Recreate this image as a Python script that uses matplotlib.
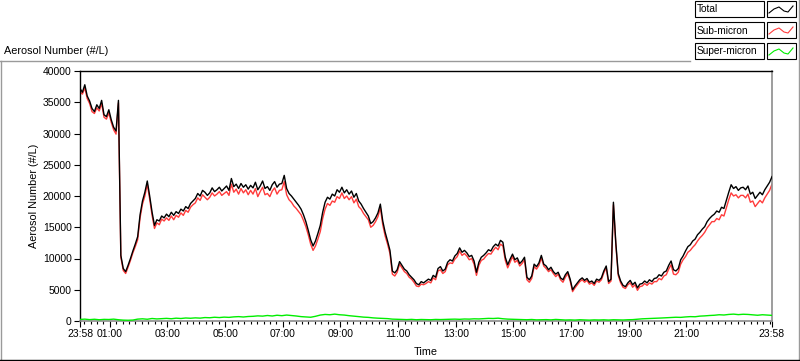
import numpy as np
import matplotlib

matplotlib.use("Agg")
import matplotlib.pyplot as plt
from matplotlib.lines import Line2D
from matplotlib.patches import Rectangle

plt.rcParams["font.family"] = ["Liberation Sans", "DejaVu Sans"]
plt.rcParams["font.size"] = 7.5

# Hours after midnight. The record runs 23:58 -> 23:58 the next day.
START_HOUR = -2 / 60
END_HOUR = 24 - 2 / 60

# Total and sub-micron counts, one value every 5 min, in thousands #/L
total_k = [
    37.2, 36.6, 37.8, 36.0, 35.2, 34.0, 33.5, 34.6, 34.0, 35.3, 33.0, 32.7,
    33.8, 32.2, 31.0, 30.4, 35.3, 10.5, 8.4, 7.9, 8.9, 10.0, 11.2, 12.3,
    13.5, 17.0, 19.2, 20.6, 22.4, 20.0, 17.4, 15.3, 16.2, 16.0, 16.8, 16.5,
    17.1, 16.7, 17.4, 16.9, 17.5, 17.2, 17.9, 17.6, 18.3, 18.0, 18.8, 19.2,
    19.6, 20.4, 20.0, 20.9, 20.6, 20.1, 20.5, 21.3, 20.7, 21.0, 21.4, 20.8,
    21.2, 21.6, 20.9, 22.8, 21.5, 21.9, 21.2, 22.0, 21.4, 21.8, 21.1, 21.7,
    21.3, 22.2, 21.0, 21.6, 22.4, 21.2, 21.5, 20.9, 21.8, 22.3, 21.4, 21.9,
    22.0, 23.3, 21.2, 20.4, 20.0, 19.5, 19.0, 18.5, 17.9, 17.0, 15.9, 14.5,
    13.0, 12.0, 12.8, 14.0, 15.3, 17.4, 19.0, 19.8, 19.5, 20.3, 20.0, 21.0,
    20.6, 21.4, 20.5, 21.0, 20.3, 20.8, 19.8, 20.4, 19.2, 18.7, 18.0, 17.4,
    16.8, 15.6, 15.9, 16.5, 17.3, 18.7, 16.0, 14.2, 12.8, 11.3, 8.0, 7.7,
    8.2, 9.5, 8.9, 8.3, 8.0, 7.4, 7.0, 6.6, 6.0, 5.8, 6.3, 6.1,
    6.4, 6.7, 6.5, 7.3, 7.0, 8.4, 8.7, 8.0, 8.3, 9.4, 9.8, 9.6,
    10.4, 10.8, 11.7, 11.0, 11.3, 10.9, 10.3, 10.5, 9.6, 7.8, 9.4, 10.2,
    10.5, 10.9, 11.4, 11.2, 11.9, 12.3, 12.0, 12.9, 12.6, 10.2, 9.0, 9.9,
    10.7, 9.8, 10.1, 9.2, 9.6, 10.2, 7.0, 6.6, 7.2, 9.1, 8.7, 9.3,
    10.5, 9.1, 8.8, 8.2, 8.6, 7.9, 7.5, 7.8, 6.9, 6.6, 7.4, 7.9,
    6.7, 5.0, 5.6, 6.1, 6.6, 6.9, 6.5, 6.8, 6.2, 6.4, 6.0, 6.7,
    6.5, 6.9, 8.0, 8.8, 6.3, 6.7, 19.0, 12.5, 7.6, 6.4, 5.7, 5.5,
    6.1, 6.5, 5.8, 6.2, 5.3, 5.9, 6.0, 6.4, 6.1, 6.6, 6.3, 6.8,
    6.9, 7.4, 7.2, 7.8, 8.0, 8.9, 9.6, 8.2, 8.0, 8.4, 9.8, 10.4,
    11.2, 11.9, 12.2, 12.8, 13.1, 13.8, 14.2, 14.7, 15.1, 15.9, 16.4, 16.8,
    17.1, 17.6, 17.4, 18.2, 18.0, 19.3, 20.6, 21.8, 21.2, 21.5, 20.9, 21.3,
    21.4, 21.0, 21.6, 20.3, 20.6, 19.6, 20.1, 20.6, 20.2, 21.0, 21.6, 22.2,
    23.1,
]

sub_micron_k = [
    36.7, 36.3, 37.3, 35.6, 34.8, 33.5, 33.2, 34.1, 33.6, 34.8, 32.6, 32.3,
    33.3, 31.8, 30.6, 29.9, 34.9, 10.2, 8.1, 7.6, 8.6, 9.7, 10.9, 11.9,
    13.0, 16.5, 18.7, 20.0, 21.9, 19.5, 16.9, 14.8, 15.7, 15.4, 16.3, 16.0,
    16.5, 16.1, 16.8, 16.2, 16.9, 16.6, 17.3, 16.9, 17.7, 17.4, 18.2, 18.6,
    18.9, 19.7, 19.3, 20.2, 19.8, 19.4, 19.8, 20.5, 20.0, 20.3, 20.7, 20.1,
    20.4, 20.7, 20.1, 21.9, 20.6, 21.1, 20.3, 21.2, 20.5, 21.0, 20.2, 20.9,
    20.3, 21.2, 19.9, 20.7, 21.4, 20.2, 20.4, 19.9, 20.8, 21.3, 20.3, 20.9,
    21.0, 22.3, 20.2, 19.4, 19.0, 18.4, 18.0, 17.5, 17.0, 16.1, 15.1, 13.8,
    12.3, 11.3, 12.0, 13.1, 14.3, 16.4, 17.9, 18.8, 18.5, 19.2, 19.0, 19.9,
    19.6, 20.5, 19.6, 20.0, 19.4, 19.9, 18.9, 19.5, 18.3, 17.9, 17.2, 16.7,
    16.2, 15.0, 15.3, 15.9, 16.7, 18.1, 15.4, 13.6, 12.3, 10.8, 7.5, 7.2,
    7.8, 9.1, 8.5, 7.9, 7.6, 7.0, 6.7, 6.2, 5.6, 5.5, 5.9, 5.8,
    6.0, 6.3, 6.1, 6.9, 6.6, 8.0, 8.2, 7.6, 7.9, 9.0, 9.3, 9.2,
    9.9, 10.3, 11.2, 10.5, 10.8, 10.4, 9.8, 10.0, 9.1, 7.3, 8.9, 9.7,
    9.9, 10.4, 10.8, 10.7, 11.3, 11.8, 11.4, 12.3, 12.0, 9.7, 8.5, 9.4,
    10.3, 9.4, 9.7, 8.8, 9.2, 9.8, 6.6, 6.2, 6.8, 8.7, 8.3, 8.9,
    10.1, 8.8, 8.4, 7.9, 8.2, 7.6, 7.1, 7.5, 6.6, 6.2, 7.0, 7.6,
    6.4, 4.7, 5.3, 5.8, 6.3, 6.6, 6.2, 6.5, 5.9, 6.1, 5.7, 6.4,
    6.2, 6.6, 7.7, 8.5, 6.0, 6.4, 18.6, 12.2, 7.3, 6.1, 5.4, 5.2,
    5.8, 6.1, 5.4, 5.8, 4.9, 5.5, 5.6, 6.0, 5.7, 6.1, 5.9, 6.3,
    6.3, 6.8, 6.6, 7.2, 7.4, 8.3, 9.0, 7.5, 7.4, 7.8, 9.1, 9.8,
    10.3, 11.0, 11.3, 11.8, 12.2, 12.8, 13.3, 13.7, 14.2, 14.9, 15.4, 15.9,
    15.9, 16.4, 16.2, 17.0, 16.8, 18.1, 19.4, 20.5, 20.0, 20.2, 19.7, 20.1,
    20.1, 19.7, 20.3, 19.0, 19.2, 18.3, 18.8, 19.3, 18.9, 19.7, 20.3, 20.9,
    21.9,
]

# Super-micron counts, one value every 10 min, in thousands #/L
super_micron_k = [
    0.25, 0.30, 0.22, 0.28, 0.20, 0.26,
    0.24, 0.30, 0.20, 0.14, 0.12, 0.15,
    0.30, 0.35, 0.28, 0.40, 0.33, 0.38,
    0.42, 0.36, 0.45, 0.40, 0.48, 0.44,
    0.50, 0.46, 0.55, 0.52, 0.60, 0.55,
    0.62, 0.58, 0.66, 0.70, 0.64, 0.72,
    0.75, 0.82, 0.78, 0.88, 0.80, 0.92,
    0.85, 0.95, 0.88, 0.80, 0.70, 0.65,
    0.60, 0.75, 0.95, 1.05, 1.00, 1.10,
    1.00, 0.95, 0.85, 0.78, 0.70, 0.62,
    0.58, 0.50, 0.45, 0.42, 0.38, 0.30,
    0.28, 0.25, 0.22, 0.26, 0.20, 0.24,
    0.22, 0.20, 0.25, 0.23, 0.26, 0.28,
    0.30, 0.27, 0.32, 0.30, 0.35, 0.33,
    0.38, 0.42, 0.40, 0.45, 0.36, 0.30,
    0.28, 0.25, 0.22, 0.20, 0.24, 0.18,
    0.20, 0.22, 0.18, 0.25, 0.20, 0.16,
    0.18, 0.15, 0.20, 0.17, 0.14, 0.18,
    0.16, 0.19, 0.15, 0.20, 0.18, 0.16,
    0.20, 0.22, 0.28, 0.35, 0.38, 0.42,
    0.45, 0.48, 0.52, 0.55, 0.60, 0.58,
    0.65, 0.70, 0.68, 0.78, 0.82, 0.88,
    0.92, 1.00, 0.96, 1.05, 1.10, 1.02,
    1.08, 1.05, 0.98, 0.92, 1.00, 0.95,
    0.90,
]

series_names = ["Total", "Sub-micron", "Super-micron"]
series_colors = ["#000000", "#ff3b3b", "#00ee00"]

tick_hours = [START_HOUR, 1, 3, 5, 7, 9, 11, 13, 15, 17, 19, 21, END_HOUR]
tick_labels = ["23:58", "01:00", "03:00", "05:00", "07:00", "09:00", "11:00",
               "13:00", "15:00", "17:00", "19:00", "21:00", "23:58"]
y_ticks = [0, 5000, 10000, 15000, 20000, 25000, 30000, 35000, 40000]

total = np.array(total_k) * 1000
sub_micron = np.array(sub_micron_k) * 1000
super_micron = np.array(super_micron_k) * 1000
hours_5min = np.linspace(START_HOUR, END_HOUR, len(total))
hours_10min = np.linspace(START_HOUR, END_HOUR, len(super_micron))

W, H = 800, 361
fig = plt.figure(figsize=(W / 100, H / 100), dpi=100)
fig.patch.set_facecolor("white")


def fx(px):
    return px / W


def fy(py):
    return 1 - py / H


ax = fig.add_axes([fx(80), fy(321), fx(772) - fx(80), fy(71) - fy(321)])
ax.plot(hours_5min, sub_micron, color=series_colors[1], lw=1.0, zorder=2)
ax.plot(hours_5min, total, color=series_colors[0], lw=1.0, zorder=3)
ax.plot(hours_10min, super_micron, color=series_colors[2], lw=1.0, zorder=4)

ax.set_xlim(START_HOUR, END_HOUR)
ax.set_ylim(0, 40000)
ax.set_yticks(y_ticks)
ax.set_yticklabels([str(v) for v in y_ticks])
ax.set_xticks(tick_hours)
ax.set_xticklabels(tick_labels)

minor = np.arange(1, 23.9, 2 / 9)
minor = np.concatenate([np.arange(1 - 2 / 9, START_HOUR, -2 / 9), minor])
ax.set_xticks(minor, minor=True)

ax.tick_params(axis="both", which="major", direction="out", length=4,
               width=0.8, colors="black", labelsize=7.5, pad=2)
ax.tick_params(axis="x", which="minor", direction="out", length=2.2,
               width=0.8, colors="black")
for side in ["left", "top"]:
    ax.spines[side].set_color("black")
    ax.spines[side].set_linewidth(1.0)
for side in ["right", "bottom"]:
    ax.spines[side].set_color("#8c8c8c")
    ax.spines[side].set_linewidth(1.2)

fig.text(fx(4), fy(51), "Aerosol Number (#/L)", ha="left", va="center",
         fontsize=7.8)
fig.text(fx(34), fy(196), "Aerosol Number (#/L)", ha="center", va="center",
         rotation=90, fontsize=7.8)
fig.text(fx(426), fy(352), "Time", ha="center", va="center", fontsize=7.8)

# outer graph frame
frame = [
    ((0.5, 0.5), (61, 359.5), "#9a9a9a"),
    ((0, 690), (61, 61), "#9a9a9a"),
    ((798.5, 798.5), (0, 359.5), "#9a9a9a"),
    ((0, 799), (359.5, 359.5), "#000000"),
]
for xs, ys, c in frame:
    fig.add_artist(Line2D([fx(x) for x in xs], [fy(y) for y in ys],
                          color=c, lw=1.0))

# plot legend, drawn in pixel space
leg = fig.add_axes([fx(690), fy(61), fx(110), 61 / H])
leg.set_xlim(690, 800)
leg.set_ylim(61, 0)
leg.axis("off")
zig_x = np.array([769, 774, 779, 784, 788, 793])
zig_y = np.array([12, 8, 6, 10, 11, 5])
for i, (name, color) in enumerate(zip(series_names, series_colors)):
    top = 1 + i * 21
    leg.add_patch(Rectangle((694.5, top), 69, 16, fill=False,
                            edgecolor="black", lw=0.8))
    leg.add_patch(Rectangle((766.5, top), 29, 16, fill=False,
                            edgecolor="black", lw=0.8))
    leg.text(697, top + 8.5, name, ha="left", va="center", fontsize=7.3)
    leg.plot(zig_x, zig_y + top, color=color, lw=0.8)

fig.savefig("out.png", dpi=100)
